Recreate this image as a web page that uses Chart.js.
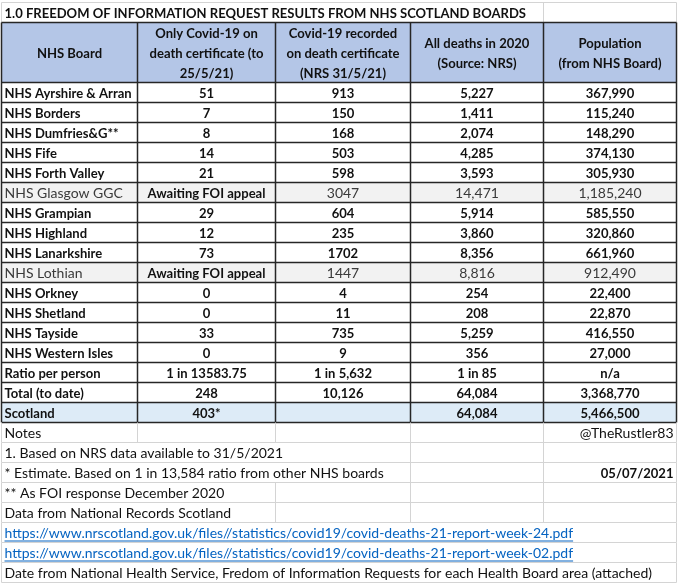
<!DOCTYPE html>
<html>
<head>
<meta charset="utf-8">
<script src="https://cdn.jsdelivr.net/npm/chart.js@4.4.1/dist/chart.umd.min.js"></script>
<style>
  html, body { margin: 0; padding: 0; background: #fff; }
</style>
</head>
<body>
<canvas id="chart" width="680" height="584"></canvas>
<script>
// Table content
const title = '1.0 FREEDOM OF INFORMATION REQUEST RESULTS FROM NHS SCOTLAND BOARDS';
const headers = [
    ['NHS Board'],
    ['Only Covid-19 on', 'death certificate (to', '25/5/21)'],
    ['Covid-19 recorded', 'on death certificate', '(NRS 31/5/21)'],
    ['All deaths in 2020', '(Source: NRS)'],
    ['Population', '(from NHS Board)']
];
const boards = ['NHS Ayrshire & Arran', 'NHS Borders', 'NHS Dumfries&G**', 'NHS Fife', 'NHS Forth Valley',
    'NHS Glasgow GGC', 'NHS Grampian', 'NHS Highland', 'NHS Lanarkshire', 'NHS Lothian', 'NHS Orkney',
    'NHS Shetland', 'NHS Tayside', 'NHS Western Isles', 'Ratio per person', 'Total (to date)', 'Scotland'];
const onlyCovid = ['51', '7', '8', '14', '21', 'Awaiting FOI appeal', '29', '12', '73', 'Awaiting FOI appeal',
    '0', '0', '33', '0', '1 in 13583.75', '248', '403*'];
const covidRecorded = ['913', '150', '168', '503', '598', '3047', '604', '235', '1702', '1447',
    '4', '11', '735', '9', '1 in 5,632', '10,126', ''];
const allDeaths = ['5,227', '1,411', '2,074', '4,285', '3,593', '14,471', '5,914', '3,860', '8,356', '8,816',
    '254', '208', '5,259', '356', '1 in 85', '64,084', '64,084'];
const population = ['367,990', '115,240', '148,290', '374,130', '305,930', '1,185,240', '585,550', '320,860',
    '661,960', '912,490', '22,400', '22,870', '416,550', '27,000', 'n/a', '3,368,770', '5,466,500'];
const notes = [
    'Notes',
    '1. Based on NRS data available to 31/5/2021',
    '* Estimate. Based on 1 in 13,584 ratio from other NHS boards',
    '** As FOI response December 2020',
    'Data from National Records Scotland',
    'https://www.nrscotland.gov.uk/files//statistics/covid19/covid-deaths-21-report-week-24.pdf',
    'https://www.nrscotland.gov.uk/files//statistics/covid19/covid-deaths-21-report-week-02.pdf',
    'Date from National Health Service, Fredom of Information Requests for each Health Board area (attached)'
];
const notesRight = ['@TheRustler83', '', '05/07/2021', '', '', '', '', ''];

// layout: column edges in x-scale units, rows in y-scale units (title 1, header 3, body, notes)
const COL_EDGES = [0, 136, 274, 409, 542, 675];
const HEADER_ROWS = 3;
const FONT = 'Lato, "Open Sans", sans-serif';
const BOLD_SIZE = 13.05;
const PLAIN_SIZE = 14;

document.addEventListener("DOMContentLoaded", function() {
    const ctx = document.getElementById('chart').getContext('2d');
    const columns = [boards, onlyCovid, covidRecorded, allDeaths, population];
    const bodyStart = 1 + HEADER_ROWS;
    const notesStart = bodyStart + boards.length;
    const totalRows = notesStart + notes.length;

    function font(bold) {
        return bold ? 'bold ' + BOLD_SIZE + 'px ' + FONT : PLAIN_SIZE + 'px ' + FONT;
    }

    function crisp(v) {
        return Math.round(v) + 0.5;
    }

    function line(c, x0, y0, x1, y1, color, width) {
        c.strokeStyle = color;
        c.lineWidth = width;
        c.beginPath();
        c.moveTo(x0, y0);
        c.lineTo(x1, y1);
        c.stroke();
    }

    // Draws the whole sheet from the chart's own scales
    const tablePlugin = {
        id: 'foiTable',
        afterDraw: function(chart) {
            const c = chart.ctx;
            const xs = chart.scales.x;
            const ys = chart.scales.y;
            const colX = COL_EDGES.map(v => crisp(xs.getPixelForValue(v)));
            const rowY = u => crisp(ys.getPixelForValue(u));
            const light = '#d4d4d4';
            const dark = '#262626';

            c.save();
            c.textBaseline = 'middle';

            // title row (plain sheet gridlines, hidden under overflowing text)
            const tTop = rowY(0), tBot = rowY(1);
            c.font = font(true);
            const titleEnd = colX[0] + 4 + c.measureText(title).width;
            line(c, colX[0], tTop, colX[5], tTop, light, 1);
            line(c, colX[0], tTop, colX[0], tBot, light, 1);
            for (let k = 1; k <= 5; k++) {
                if (colX[k] > titleEnd) line(c, colX[k], tTop, colX[k], tBot, light, 1);
            }
            c.fillStyle = '#111';
            c.textAlign = 'left';
            c.fillText(title, colX[0] + 3, (tTop + tBot) / 2 + 1);

            // header
            const hTop = rowY(1), hBot = rowY(bodyStart);
            c.fillStyle = '#b4c6e7';
            c.fillRect(colX[0], hTop, colX[5] - colX[0], hBot - hTop);
            c.fillStyle = '#111';
            c.textAlign = 'center';
            c.font = font(true);
            const lineH = (hBot - hTop) / HEADER_ROWS;
            headers.forEach(function(lines, k) {
                const cx = (colX[k] + colX[k + 1]) / 2;
                const y0 = (hTop + hBot) / 2 - (lines.length - 1) * lineH / 2;
                lines.forEach(function(t, n) {
                    c.fillText(t, cx, y0 + n * lineH + 1);
                });
            });

            // body rows
            boards.forEach(function(name, i) {
                const top = rowY(bodyStart + i), bot = rowY(bodyStart + i + 1);
                const pending = onlyCovid[i].indexOf('Awaiting') === 0;
                const total = i === boards.length - 1;
                if (pending || total) {
                    c.fillStyle = pending ? '#f2f2f2' : '#ddebf7';
                    c.fillRect(colX[0], top, colX[5] - colX[0], bot - top);
                }
                const cy = (top + bot) / 2 + 1;
                columns.forEach(function(col, k) {
                    const text = col[i];
                    if (!text) return;
                    const bold = !pending || k === 1;
                    c.font = font(bold);
                    c.fillStyle = bold ? '#111' : '#3a3a3a';
                    if (k === 0) {
                        c.textAlign = 'left';
                        c.fillText(text, colX[0] + 3, cy);
                    } else {
                        c.textAlign = 'center';
                        c.fillText(text, (colX[k] + colX[k + 1]) / 2, cy);
                    }
                });
            });

            // dark borders around header and body cells
            const bEnd = rowY(notesStart);
            for (let r = 1; r <= notesStart; r++) {
                if (r > 1 && r < bodyStart) continue;
                const y = rowY(r);
                line(c, colX[0], y, colX[5], y, dark, 1.5);
            }
            colX.forEach(function(x) {
                line(c, x, hTop, x, bEnd, dark, 1.5);
            });

            // notes block
            notes.forEach(function(text, j) {
                const top = rowY(notesStart + j), bot = rowY(notesStart + j + 1);
                const cy = (top + bot) / 2 + 1;
                const link = text.indexOf('http') === 0;
                c.font = font(false);
                const end = colX[0] + 4 + c.measureText(text).width;
                let start = Infinity;
                if (notesRight[j]) {
                    const bold = notesRight[j].indexOf('@') !== 0;
                    c.font = font(bold);
                    start = colX[5] - 4 - c.measureText(notesRight[j]).width;
                }
                line(c, colX[0], bot, colX[5], bot, light, 1);
                line(c, colX[0], top, colX[0], bot, light, 1);
                line(c, colX[5], top, colX[5], bot, light, 1);
                for (let k = 1; k < 5; k++) {
                    if (colX[k] > end && colX[k] < start) line(c, colX[k], top, colX[k], bot, light, 1);
                }
                c.font = font(false);
                c.textAlign = 'left';
                c.fillStyle = link ? '#0563c1' : '#111';
                c.fillText(text, colX[0] + 3, cy);
                if (link) {
                    line(c, colX[0] + 3, cy + 7.5, end - 1, cy + 7.5, '#0563c1', 1);
                }
                if (notesRight[j]) {
                    c.font = font(notesRight[j].indexOf('@') !== 0);
                    c.textAlign = 'right';
                    c.fillStyle = '#111';
                    c.fillText(notesRight[j], colX[5] - 3, cy);
                }
            });

            c.restore();
        }
    };

    new Chart(ctx, {
        type: 'scatter',
        data: { datasets: [{ data: [] }] },
        options: {
            responsive: false,
            animation: false,
            events: [],
            layout: { padding: { left: 1, right: 4, top: 1.7, bottom: 2.3 } },
            scales: {
                x: { type: 'linear', min: COL_EDGES[0], max: COL_EDGES[COL_EDGES.length - 1], display: false },
                y: { type: 'linear', min: 0, max: totalRows, reverse: true, display: false }
            },
            plugins: {
                legend: { display: false },
                tooltip: { enabled: false }
            }
        },
        plugins: [tablePlugin]
    });
});
</script>
</body>
</html>
